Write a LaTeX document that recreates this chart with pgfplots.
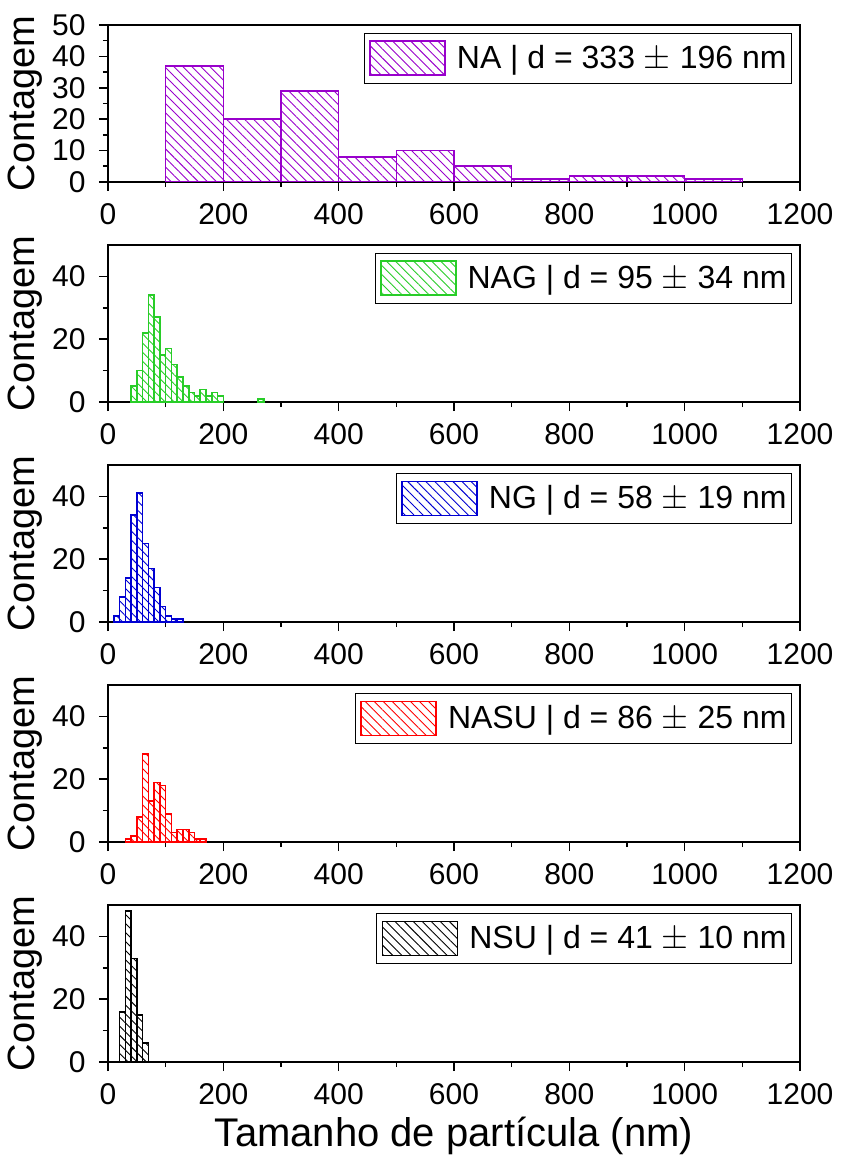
\documentclass[border=0pt]{standalone}
\usepackage{fontspec}
\setmainfont{Liberation Sans}
\usepackage{pgfplots}
\pgfplotsset{compat=1.18}
\usetikzlibrary{patterns.meta}

\definecolor{cNA}{RGB}{153,0,204}
\definecolor{cNAG}{RGB}{40,205,40}
\definecolor{cNG}{RGB}{0,0,210}
\definecolor{cNASU}{RGB}{255,0,0}
\definecolor{cNSU}{RGB}{0,0,0}

\pgfplotsset{
  hist/.style={
    width=346pt, height=78.5pt, scale only axis,
    anchor=north west,
    xmin=0, xmax=1200, ymin=0, ymax=50,
    xtick={0,200,...,1200}, minor x tick num=1,
    ytick={0,20,40}, minor y tick num=1,
    xtick pos=bottom, ytick pos=left,
    tick align=outside,
    major tick length=4.5pt, minor tick length=2.5pt,
    axis line style={line width=1pt},
    tick style={line width=0.8pt, black},
    /pgf/number format/assume math mode=true,
    /pgf/number format/1000 sep={},
    tick label style={font=\fontsize{15}{15}\selectfont, inner sep=0pt},
    xticklabel style={anchor=north, yshift=-6pt},
    yticklabel style={anchor=east, xshift=-6.5pt},
    ylabel={Contagem},
    ylabel style={font=\fontsize{19}{19}\selectfont, at={(axis description cs:-0.12,0.5)}, anchor=center},
    legend style={at={(1,1)}, anchor=north east, xshift=-4pt, yshift=-4pt,
      draw=black, line width=0.5pt, font=\fontsize{16}{16}\selectfont,
      inner xsep=2.5pt, inner ysep=3.5pt, column sep=5.5pt,
      nodes={inner sep=0pt}},
    legend image code/.code={\draw[##1] (0pt,-8.5pt) rectangle (37.5pt,8.5pt);},
  },
  bars/.style={ybar interval, draw=#1, line width=0.8pt,
    pattern={Lines[angle=-45, distance=3.2pt, line width=0.45pt]}, pattern color=#1},
}

\begin{document}
\begin{tikzpicture}
\useasboundingbox (-54pt,12.5pt) rectangle (367.5pt,-567.5pt);

% NA
\begin{axis}[hist, at={(0,0)}, ytick={0,10,...,50}, minor y tick num=1]
\addplot[bars=cNA] coordinates {
  (100,37) (200,20) (300,29) (400,8) (500,10) (600,5)
  (700,1) (800,2) (900,2) (1000,1) (1100,1)
};
\addlegendentry{NA | d = 333 $\pm$ 196 nm}
\end{axis}

% NAG
\begin{axis}[hist, at={(0,-110pt)}]
\addplot[bars=cNAG] coordinates {
  (40,5) (50,10) (60,22) (70,34) (80,27) (90,15) (100,17) (110,12)
  (120,8) (130,5) (140,3) (150,2) (160,4) (170,2) (180,3) (190,2) (200,2)
};
\addlegendentry{NAG | d = 95 $\pm$ 34 nm}
\addplot[bars=cNAG, forget plot] coordinates {(260,1) (270,1)};
\end{axis}

% NG
\begin{axis}[hist, at={(0,-220pt)}]
\addplot[bars=cNG] coordinates {
  (10,2) (20,8) (30,14) (40,34) (50,41) (60,25) (70,17) (80,11)
  (90,5) (100,2) (110,1) (120,1) (130,1)
};
\addlegendentry{NG | d = 58 $\pm$ 19 nm}
\end{axis}

% NASU
\begin{axis}[hist, at={(0,-330pt)}]
\addplot[bars=cNASU] coordinates {
  (30,1) (40,2) (50,8) (60,28) (70,13) (80,19) (90,18) (100,9)
  (110,3) (120,4) (130,4) (140,3) (150,1) (160,1) (170,1)
};
\addlegendentry{NASU | d = 86 $\pm$ 25 nm}
\end{axis}

% NSU
\begin{axis}[hist, at={(0,-440pt)},
  xlabel={Tamanho de partícula (nm)},
  xlabel style={font=\fontsize{20}{20}\selectfont, at={(axis description cs:0.5,0)}, anchor=north, inner sep=0pt, yshift=-27.5pt}]
\addplot[bars=cNSU] coordinates {
  (20,16) (30,48) (40,33) (50,15) (60,6) (70,6)
};
\addlegendentry{NSU | d = 41 $\pm$ 10 nm}
\end{axis}
\end{tikzpicture}
\end{document}
